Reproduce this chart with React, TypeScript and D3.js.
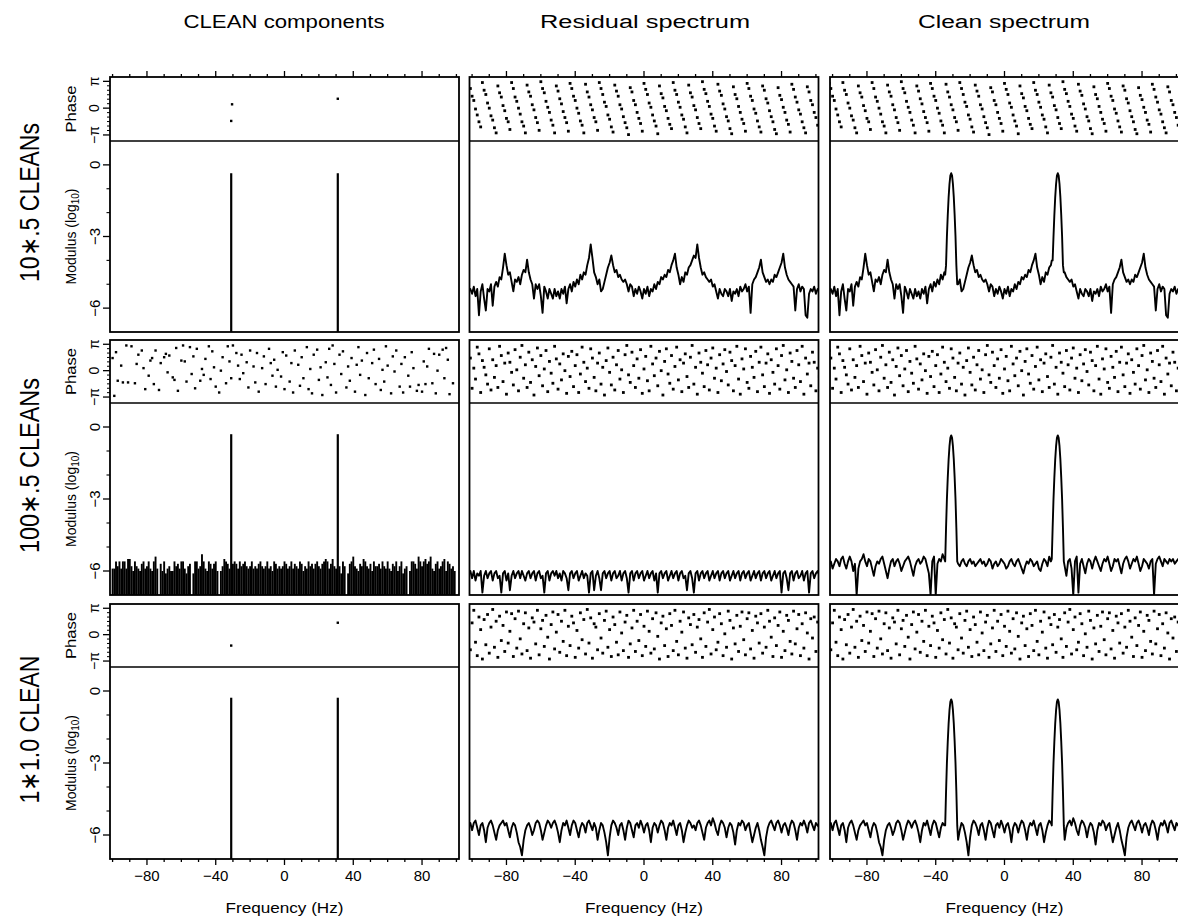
import React from "react";
import * as d3 from "d3";

// ---------- axis / label data ----------
const F_START = -102; // frequency (Hz) of the first sample of every 1-Hz series below
const X_DOMAIN: [number, number] = [-101.5, 101.5];
const MOD_DOMAIN: [number, number] = [-7, 1];
const PHASE_DOMAIN: [number, number] = [-3.85, 3.65];

const COLUMN_TITLES = ["CLEAN components", "Residual spectrum", "Clean spectrum"];
const ROW_LABELS = ["10∗.5 CLEANs", "100∗.5 CLEANs", "1∗1.0 CLEAN"];
const X_TICKS = [-80, -40, 0, 40, 80];
const X_TICK_LABELS = ["−80", "−40", "0", "40", "80"];
const X_MINOR_TICKS = [-100, -90, -70, -60, -50, -30, -20, -10, 10, 20, 30, 50, 60, 70, 90, 100];
const MOD_TICKS = [0, -3, -6];
const MOD_TICK_LABELS = ["0", "−3", "−6"];
const MOD_MINOR_TICKS = [-1, -2, -4, -5];
const PHASE_TICKS = [Math.PI, 0, -Math.PI];
const PHASE_TICK_LABELS = ["π", "0", "−π"];
const PHASE_MINOR_TICKS = [5, 4, 3, 2, 1, -1, -2, -3, -4, -5].map((k) => (k * Math.PI) / 6);

// ---------- CLEAN components ----------
const COMP_FREQS = [-31, 31];
const COMP_TOPS = [
  [-0.35, -0.35],
  [-0.3, -0.3],
  [-0.28, -0.28],
];
const COMP1_PH_FREQS = [-30.5, -31, 31];
const COMP1_PH = [0.45, -1.5, 1.1];
const COMP3_PH_FREQS = [-31, 31];
const COMP3_PH = [-1.3, 1.42];

// 100*.5 run: small components on the 1 Hz grid (null = none)
const COMP2_MOD = [
  null, null, -5.9, -5.9, -5.6, -5.8, -5.6, -5.9, -5.6, -5.6,
  -5.9, -5.5, -5.5, -5.8, -6.0, -5.6, -5.8, -5.9, -6.0, -5.7,
  -5.6, -5.9, -5.8, -5.6, -5.9, -6.0, -5.6, -5.4, -5.9, null,
  -5.7, -6.0, -5.6, -6.1, -5.9, -5.8, -6.0, -6.0, -5.6, -5.8,
  -5.7, -5.9, -5.6, -5.6, -5.9, -6.1, -5.8, -5.7, null, -6.1,
  -5.6, -5.6, -5.9, -5.8, -5.3, -5.6, -5.9, -6.0, -5.6, -5.7,
  -5.9, -5.7, -5.6, -6.0, null, -6.0, -5.8, -5.5, -5.6, -5.7,
  -5.9, null, -5.7, -5.6, -5.7, -5.9, -5.6, -5.8, -5.7, -5.6,
  -5.8, -5.9, -5.8, -5.6, -5.9, -5.8, -5.9, -5.7, -5.6, -5.8,
  -5.9, -5.8, -5.6, -5.9, -5.8, -6.0, -5.6, -5.7, -5.9, -5.8,
  -5.9, -5.8, -5.6, -5.7, -5.9, -5.8, -5.6, -5.9, -5.7, -5.8,
  -5.9, -5.6, -5.7, -6.0, -5.8, -5.9, -5.6, -5.8, -5.7, -5.9,
  -5.7, -5.6, -5.8, -5.9, -5.7, -5.6, -5.5, -5.6, -5.9, -5.7,
  -5.5, -5.8, -5.9, null, -5.8, -6.1, -5.6, -5.8, null, -6.1,
  -5.7, -5.6, -5.4, -5.8, -5.9, -6.0, -5.7, -5.8, -5.5, -5.6,
  -5.8, -5.9, -5.7, -6.0, -5.6, -5.8, -5.8, -5.7, -5.9, -5.6,
  -5.8, -5.9, -5.6, -5.9, -6.0, -5.7, -5.8, -5.6, -6.0, -5.8,
  -5.6, -6.1, -5.9, -5.8, null, -6.0, -5.6, -5.6, -5.7, -5.9,
  -5.4, -5.6, -5.8, -5.6, -5.5, -5.7, -5.6, -5.4, -5.9, -6.0,
  -5.7, -5.6, -5.9, -5.8, -5.6, -5.5, -6.0, -5.6, -5.7, -5.9,
  -5.8, -6.0, null, null, null,
];
const COMP2_PH = [
  null, null, 1.5, -3.0, 2.2, -1.2, null, 0.6, -1.4, null,
  3.0, -1.4, null, 2.9, null, -1.5, 0.8, 1.9, null, 2.4,
  0.3, -2.2, null, -0.6, 1.2, 1.5, -1.6, 2.4, null, -2.3,
  0.9, null, 1.6, 2.0, -0.2, 1.8, null, -0.8, -1.1, 2.7,
  -2.4, null, 1.2, 3.0, 1.1, -1.3, null, 2.8, -0.4, 1.7,
  -2.1, 2.6, null, -1.2, 0.2, -0.5, 1.4, null, 2.9, -1.0,
  2.3, 0.4, -1.9, null, -2.6, 0.0, 1.6, null, -1.5, 2.9,
  1.1, -0.9, 3.0, null, 2.1, 0.6, -1.0, 1.9, -0.3, null,
  1.0, -2.0, 2.4, null, 0.5, -1.4, 2.1, -2.5, null, 0.3,
  1.7, -1.6, null, 2.6, 0.9, -0.6, 1.3, -1.9, 0.1, null,
  -0.7, 2.2, -2.2, 1.8, null, -1.3, 0.9, -2.6, 2.4, null,
  0.7, -1.8, 1.6, -0.9, null, 2.8, -2.2, 0.2, -2.7, 1.9,
  null, 2.5, -1.1, 0.4, -2.9, null, 1.0, -0.8, 2.6, -1.7,
  3.0, 0.8, -2.6, null, 1.9, -0.4, 2.3, null, -2.0, 0.5,
  -1.2, 1.5, null, -2.5, 0.7, 2.8, -0.5, 1.2, null, -2.9,
  2.1, -0.9, null, 0.9, 2.5, -1.6, null, 1.4, -2.3, 0.1,
  -1.3, 2.9, 0.6, null, -2.7, 1.7, -0.1, 2.4, null, -1.9,
  0.8, -2.6, 1.6, null, -0.6, -1.9, 2.2, 0.3, null, -2.4,
  -1.7, null, -2.5, 1.1, -1.6, 0.5, 2.6, null, -1.5, 2.0,
  -2.7, 0.0, 1.9, null, 2.5, -0.9, 2.7, 1.3, -2.8, null,
  -1.5, null, null, null, null,
];

// ---------- spectra: log10 modulus, 1 Hz grid from -102 Hz ----------
const MOD_R1 = [
  -5.3, -5.2, -5.4, -5.1, -5.5, -5.2, -6.3, -5.3, -5.0, -5.6,
  -6.1, -5.2, -5.3, -5.0, -5.9, -5.1, -4.9, -5.1, -4.7, -4.8,
  -4.3, -3.72, -4.2, -4.6, -4.5, -4.9, -5.3, -4.8, -4.9, -4.7,
  -5.0, -4.6, -4.4, -4.5, -3.97, -4.5, -4.8, -5.0, -5.6, -5.0,
  -5.2, -5.0, -5.5, -6.2, -5.1, -5.3, -5.6, -5.2, -5.4, -5.6,
  -5.2, -5.5, -5.3, -5.6, -5.2, -5.4, -5.1, -5.8, -5.2, -5.0,
  -5.3, -4.9, -5.1, -4.8, -5.0, -4.6, -4.8, -4.5, -4.6, -4.2,
  -3.9, -3.33, -3.9, -4.5, -4.7, -5.0, -4.8, -5.3, -5.2, -4.9,
  -4.6, -4.3, -4.1, -3.79, -4.2, -4.5, -4.4, -4.7, -4.6, -4.8,
  -4.9, -4.8, -5.0, -5.3, -5.0, -5.1, -5.5, -5.2, -5.4, -5.1,
  -5.3, -5.6, -5.2, -5.4, -5.1, -5.5, -5.2, -5.3, -5.0, -5.2,
  -4.9, -5.0, -4.7, -4.8, -4.6, -4.7, -4.4, -4.5, -4.2, -4.0,
  -3.72, -4.3, -4.6, -5.0, -4.7, -4.9, -4.5, -4.6, -4.3, -4.2,
  -4.0, -3.8, -3.9, -3.33, -3.9, -4.3, -4.6, -4.5, -4.7, -4.8,
  -4.9, -4.8, -5.1, -5.0, -5.3, -5.6, -5.2, -5.4, -5.5, -5.2,
  -5.3, -5.5, -5.2, -5.7, -5.3, -5.4, -5.2, -5.5, -5.1, -5.3,
  -5.2, -5.0, -5.3, -5.1, -6.2, -5.0, -4.8, -4.7, -4.5, -4.3,
  -3.97, -4.5, -4.7, -4.9, -4.8, -5.0, -4.8, -4.9, -4.6, -4.7,
  -4.5, -4.3, -4.1, -3.72, -4.3, -4.6, -4.8, -4.9, -5.0, -5.1,
  -6.1, -5.2, -5.0, -5.3, -5.1, -5.2, -6.3, -6.4, -5.4, -5.2,
  -5.3, -5.1, -5.4, -5.2, -5.3,
];
const MOD_R2 = [
  -6.1, -6.0, -6.3, -6.0, -6.4, -6.1, -6.2, -6.0, -6.9, -6.2,
  -6.0, -6.3, -6.1, -6.0, -6.4, -6.1, -6.0, -6.3, -6.2, -6.9,
  -6.1, -6.0, -6.4, -6.1, -6.8, -6.2, -6.0, -6.3, -6.1, -6.0,
  -6.3, -6.0, -6.2, -6.4, -6.1, -6.0, -6.3, -6.1, -6.0, -6.4,
  -6.1, -6.0, -6.3, -6.2, -6.9, -6.1, -6.0, -6.4, -6.1, -6.0,
  -6.2, -6.0, -6.3, -6.1, -6.4, -6.0, -6.1, -6.3, -6.8, -6.1,
  -6.0, -6.3, -6.1, -6.0, -6.4, -6.2, -6.0, -6.3, -6.1, -6.2,
  -6.9, -6.1, -6.0, -6.8, -6.2, -6.0, -6.3, -6.8, -6.1, -6.0,
  -6.3, -6.1, -6.0, -6.4, -6.1, -6.0, -6.3, -6.2, -6.0, -6.4,
  -6.1, -6.0, -6.3, -6.9, -6.1, -6.0, -6.4, -6.1, -6.0, -6.3,
  -6.1, -6.0, -6.4, -6.2, -6.0, -6.3, -6.1, -6.0, -6.4, -6.1,
  -6.9, -6.1, -6.0, -6.3, -6.1, -6.0, -6.4, -6.2, -6.0, -6.3,
  -6.1, -6.0, -6.4, -6.1, -6.0, -6.3, -6.2, -6.8, -6.1, -6.0,
  -6.3, -6.9, -6.1, -6.0, -6.4, -6.1, -6.0, -6.3, -6.1, -6.0,
  -6.4, -6.2, -6.0, -6.3, -6.1, -6.0, -6.4, -6.1, -6.0, -6.3,
  -6.1, -6.0, -6.4, -6.2, -6.0, -6.3, -6.1, -6.0, -6.4, -6.1,
  -6.0, -6.3, -6.1, -6.0, -6.4, -6.2, -6.0, -6.3, -6.1, -6.0,
  -6.4, -6.1, -6.0, -6.3, -6.1, -6.0, -6.4, -6.2, -6.0, -6.3,
  -6.1, -6.0, -6.9, -6.1, -6.0, -6.3, -6.8, -6.1, -6.0, -6.4,
  -6.1, -6.0, -6.3, -6.2, -6.0, -6.4, -6.1, -6.0, -6.9, -6.1,
  -6.0, -6.3, -6.1, -6.0, -6.2,
];
const MOD_C2 = [
  -5.7, -5.6, -5.9, -5.7, -5.5, -5.6, -5.8, -5.5, -5.4, -5.7,
  -5.9, -5.6, -5.4, -5.6, -6.0, -5.7, -7.0, -5.9, -5.6, -5.5,
  -5.3, -5.6, -5.8, -5.5, -5.6, -5.9, -6.2, -5.8, -5.6, -5.7,
  -5.5, -5.4, -5.7, -6.0, -6.3, -5.9, -5.6, -5.5, -5.8, -5.6,
  -5.5, -5.7, -6.0, -5.8, -5.6, -5.5, -5.4, -5.6, -5.9, -6.2,
  -5.8, -5.6, -5.5, -5.7, -5.6, -5.4, -5.5, -5.8, -6.1, -7.0,
  -5.6, -5.4, -7.0, -5.7, -5.5, -5.6, -5.3, -5.5, -5.8, -5.6,
  -5.5, -5.6, -5.7, -5.5, -5.4, -5.7, -5.8, -5.6, -5.5, -5.7,
  -5.8, -5.6, -5.5, -5.7, -5.6, -5.8, -5.7, -5.6, -5.5, -5.7,
  -5.6, -5.8, -5.7, -5.5, -5.6, -5.9, -5.7, -5.6, -5.8, -5.7,
  -5.5, -5.6, -5.7, -5.9, -5.8, -5.6, -5.5, -5.7, -5.8, -5.6,
  -5.5, -5.7, -5.9, -6.1, -5.8, -5.6, -5.7, -5.5, -5.6, -5.8,
  -5.7, -5.6, -5.9, -6.0, -5.7, -5.5, -5.6, -5.8, -5.4, -5.6,
  -5.5, -5.7, -5.6, -5.5, -5.6, -5.7, -5.3, -5.8, -6.2, -5.6,
  -5.5, -5.9, -7.0, -5.6, -5.4, -6.9, -5.7, -5.5, -5.8, -6.1,
  -5.7, -5.5, -5.6, -5.9, -5.6, -5.4, -5.6, -5.8, -6.0, -5.7,
  -5.5, -5.6, -5.4, -5.7, -6.0, -5.8, -5.5, -5.6, -5.5, -5.8,
  -6.1, -5.7, -5.5, -5.4, -5.6, -5.9, -5.7, -5.5, -5.6, -5.4,
  -5.7, -6.0, -5.8, -5.5, -5.6, -5.7, -5.9, -5.6, -5.5, -7.0,
  -5.7, -5.5, -5.4, -5.6, -5.8, -5.5, -5.6, -5.7, -5.5, -5.6,
  -5.5, -5.7, -5.6, -5.5, -5.6,
];
const MOD_R3 = [
  -5.6, -5.5, -5.8, -5.5, -5.4, -5.7, -6.0, -5.6, -5.5, -5.8,
  -6.3, -5.7, -5.5, -5.4, -5.6, -5.9, -6.2, -5.8, -5.6, -5.5,
  -5.4, -5.6, -5.5, -5.8, -6.1, -5.7, -5.5, -5.6, -5.9, -6.3,
  -6.5, -6.85, -6.2, -5.8, -5.6, -5.5, -5.7, -6.0, -5.8, -5.5,
  -5.4, -5.5, -5.8, -6.2, -5.9, -5.6, -5.4, -5.5, -5.7, -5.5,
  -5.4, -5.6, -5.9, -6.3, -5.8, -5.5, -5.6, -5.4, -5.7, -6.0,
  -5.6, -5.4, -5.5, -5.8, -6.1, -5.7, -5.5, -5.6, -5.9, -5.5,
  -5.4, -5.6, -5.8, -5.5, -5.7, -6.2, -5.8, -5.5, -5.6, -5.9,
  -6.3, -6.85, -6.1, -5.6, -5.4, -5.5, -5.7, -6.0, -5.6, -5.5,
  -5.8, -6.2, -5.7, -5.4, -5.5, -5.8, -6.1, -5.6, -5.5, -5.7,
  -5.4, -5.6, -5.9, -5.6, -5.5, -5.8, -6.3, -5.7, -5.5, -5.6,
  -5.9, -5.6, -5.4, -5.5, -5.8, -6.2, -5.7, -5.5, -5.6, -5.4,
  -5.7, -6.0, -5.6, -5.5, -5.8, -6.3, -5.9, -5.6, -5.4, -5.5,
  -5.7, -5.6, -5.8, -5.5, -5.4, -5.6, -5.9, -6.2, -5.7, -5.5,
  -5.4, -5.6, -5.3, -5.5, -5.8, -6.0, -5.6, -5.4, -5.5, -5.7,
  -6.1, -5.7, -5.5, -5.6, -5.9, -6.4, -5.8, -5.5, -5.6, -5.4,
  -5.5, -5.8, -5.6, -5.5, -5.9, -6.3, -6.0, -5.7, -5.5, -5.8,
  -6.2, -6.5, -6.85, -6.1, -5.7, -5.5, -5.4, -5.6, -5.8, -5.5,
  -5.4, -5.6, -5.9, -5.6, -5.5, -5.7, -6.0, -5.6, -5.4, -5.5,
  -5.8, -6.2, -5.7, -5.5, -5.6, -5.4, -5.6, -5.9, -5.5, -5.4,
  -5.6, -5.8, -5.5, -5.6, -5.7,
];

// restored CLEAN beam (log10 modulus) around each component frequency
const BEAM_OFFSETS = [-3.5, -3, -2.5, -2, -1.5, -1, -0.5, 0, 0.5, 1, 1.5, 2, 2.5, 3, 3.5];
const BEAM_VALUES = [-5.6, -4.2, -3.0, -2.1, -1.35, -0.8, -0.45, -0.35, -0.45, -0.8, -1.35, -2.1, -3.0, -4.2, -5.6];

// ---------- phases (radians), 1 Hz grid from -102 Hz ----------
const PH_R1 = [
  2.9, 2.3, 1.4, 0.9, -0.1, -0.8, -1.6, -2.2, 3.0, 2.1,
  1.6, 0.6, 0.0, -0.9, -1.4, -2.3, -2.9, 2.6, 1.8, 1.3,
  0.3, -0.3, -1.2, -1.6, -2.5, 3.0, 2.3, 1.3, 0.8, 0.0,
  -0.7, -1.6, -2.1, -2.9, 2.7, 1.9, 1.4, 0.4, -0.2, -1.1,
  -1.7, -2.6, 3.1, 2.3, 1.8, 0.8, 0.1, -0.5, -1.4, -2.0,
  -2.9, 2.6, 2.0, 1.1, 0.5, -0.4, -1.1, -1.7, -2.7, 2.9,
  2.3, 1.4, 0.9, 0.0, -0.6, -1.5, -2.0, -2.9, 2.8, 1.9,
  1.3, 0.4, -0.2, -1.1, -1.6, -2.6, 3.0, 2.3, 1.6, 0.7,
  0.2, -0.8, -1.3, -2.2, -2.8, 2.7, 2.0, 1.4, 0.4, -0.1,
  -1.0, -1.7, -2.3, -3.1, 2.4, 1.9, 0.9, 0.4, -0.5, -1.2,
  -1.8, -2.7, 2.9, 2.2, 1.6, 0.6, 0.1, -0.8, -1.5, -2.1,
  -3.0, 2.6, 1.7, 1.2, 0.2, -0.3, -1.2, -1.9, -2.4, 3.0,
  2.1, 1.6, 0.7, 0.1, -0.8, -1.3, -2.2, -2.9, 2.7, 1.8,
  1.3, 0.3, -0.2, -1.1, -1.8, -2.4, 3.1, 2.2, 1.7, 0.8,
  0.2, -0.7, -1.2, -2.1, -2.7, 2.8, 2.0, 1.5, 0.5, -0.1,
  -1.0, -1.5, -2.4, -3.0, 2.5, 1.6, 1.1, 0.2, -0.5, -1.3,
  -1.8, -2.7, 2.9, 2.3, 1.4, 0.9, -0.1, -0.6, -1.5, -2.2,
  -2.8, 2.6, 2.1, 1.1, 0.6, -0.3, -1.0, -1.6, -2.5, -3.0,
  2.4, 1.5, 1.0, 0.1, -0.5, -1.4, -1.9, -2.8, 2.8, 2.2,
  1.3, 0.7, -0.2, -0.7, -1.6, -2.3, -2.9, 2.5, 1.9, 0.9,
  0.4, -0.5, -1.1, -2.0, -2.5,
];
const PH_R2 = [
  2.4, 1.5, -2.1, 0.3, -1.0, 2.8, 2.0, -2.6, 1.2, 0.4,
  -0.5, -1.6, 2.6, -2.3, 1.3, -0.8, 0.6, -2.0, 2.9, 1.8,
  -1.3, 0.9, -2.8, 2.1, 1.0, -0.2, -1.7, 2.5, 0.1, -2.4,
  1.6, 3.0, -0.9, 0.7, -2.0, 2.2, -1.4, 1.3, -2.9, 0.5,
  2.7, -0.6, 1.8, -1.8, 0.2, 2.4, -2.5, 1.1, -0.3, -1.5,
  2.9, 1.4, -2.2, 0.8, -1.1, 2.0, 0.0, -2.7, 1.7, -0.7,
  2.3, -1.9, 0.6, 1.9, -2.6, -0.4, 2.8, 1.0, -1.3, 0.3,
  -2.1, 2.6, 1.5, -0.8, -2.4, 0.9, 2.1, -1.6, 0.4, -2.9,
  1.2, 2.7, -0.2, -1.7, 1.6, -2.3, 0.7, 2.4, -1.0, 0.1,
  -2.6, 1.9, 3.0, -0.5, -1.4, 2.2, 0.6, -2.0, 1.4, -0.9,
  2.5, -2.7, 0.2, 1.7, -1.2, -2.4, 2.9, 0.8, -0.6, 1.5,
  -1.8, 2.3, 0.0, -2.9, 1.1, 2.6, -0.4, -1.5, 1.8, -2.2,
  0.5, 2.8, -1.1, 1.3, -2.5, 0.9, 2.0, -0.7, -2.0, 1.6,
  3.0, -1.6, 0.4, -2.8, 2.1, 1.0, -0.3, -1.9, 2.4, 0.7,
  -2.3, 1.5, 2.7, -0.9, 0.3, -2.6, 1.9, -1.2, 0.8, 2.5,
  -0.1, -1.7, 2.2, 1.2, -2.4, 0.6, 2.9, -1.0, -2.8, 1.4,
  0.2, 2.6, -1.4, -2.1, 1.7, 0.4, -0.8, 2.3, -2.5, 1.0,
  2.8, -0.5, -1.9, 0.9, 2.0, -2.7, 1.3, -0.2, -1.6, 2.6,
  0.6, -2.2, 1.8, 3.0, -1.1, 0.1, -2.6, 2.1, 1.1, -0.9,
  -2.0, 2.4, 0.7, -1.3, 2.9, -2.8, 1.5, -0.4, 0.9, -1.8,
  2.2, 1.0, -2.4, 0.3, -0.7,
];
const PH_R3 = [
  2.6, -1.8, 1.4, 2.9, -0.9, -2.5, 2.1, 0.6, -2.9, 1.8,
  -1.2, 2.4, -2.2, 0.9, 3.0, -1.5, 1.6, -2.7, 2.2, -0.7,
  1.1, -2.0, 2.7, -1.0, 0.4, 2.5, -2.6, 1.9, -1.6, 2.8,
  -0.5, -2.3, 1.3, 2.6, -1.9, 0.8, -2.8, 2.0, 1.5, -1.1,
  2.9, -2.4, 0.7, 1.7, -1.4, 2.3, -0.3, -2.9, 1.2, 2.7,
  -1.7, 0.3, 2.4, -2.1, 1.6, -0.8, 2.9, -2.5, 1.0, -1.3,
  2.2, 1.4, -2.7, 0.5, -1.6, 2.6, -0.6, 1.8, -2.3, 3.0,
  -1.0, 2.0, -2.8, 1.3, 0.9, -1.8, 2.5, -0.4, -2.2, 1.7,
  2.8, -1.5, 0.6, -2.6, 2.1, 1.2, -0.9, -2.4, 2.7, 0.2,
  -1.9, 1.5, 2.3, -2.7, -1.1, 0.8, 2.9, -2.0, 1.6, -0.7,
  2.4, -2.5, 1.0, -1.4, 2.8, 0.4, -2.2, 1.9, -1.7, 2.6,
  -0.2, -2.9, 1.4, 2.2, -1.3, 0.7, -2.6, 2.5, 1.1, -1.9,
  2.9, -0.8, -2.4, 1.6, 0.3, 2.7, -1.6, -2.8, 2.0, 1.2,
  -1.2, 2.4, -2.1, 0.9, 1.8, -0.5, -2.7, 2.6, -1.4, 1.5,
  3.0, -2.3, 0.6, 2.1, -1.8, -0.9, 2.5, 1.3, -2.5, 0.1,
  -1.5, 2.8, 1.7, -2.9, 0.8, -1.1, 2.3, -2.0, 1.0, 2.7,
  -0.6, -2.4, 1.9, 2.6, -1.7, 0.5, -2.8, 2.2, 1.4, -1.0,
  2.5, -2.2, 0.9, -1.5, 2.9, 1.6, -0.3, -2.6, 2.0, -1.3,
  1.1, 2.7, -2.7, 0.4, -1.9, 2.3, 1.7, -0.8, -2.3, 2.8,
  -1.1, 0.7, 2.4, -2.5, 1.3, -1.6, 2.6, 0.2, -2.9, 1.9,
  -0.4, 2.1, -2.0, 1.5, 2.9,
];

// ---------- per-row bundles ----------
const RESIDUAL_MOD = [MOD_R1, MOD_R2, MOD_R3];
const CLEAN_NOISE_MOD = [MOD_R1, MOD_C2, MOD_R3];
const RESIDUAL_PH = [PH_R1, PH_R2, PH_R3];
const CLEAN_PH = [PH_R1, PH_R2, PH_R3];

// ---------- layout ----------
const W = 1178;
const H = 921;
const COL_LEFT = [110, 469.5, 830];
const PANEL_W = 349;
const ROW_TOP = [77, 340, 604];
const ROW_DIV = [141, 403, 667];
const ROW_BOT = [332, 595, 859];
const FONT = "'Liberation Sans', Arial, Helvetica, sans-serif";

type Pt = [number, number];

function gridPoints(values: (number | null)[]): Pt[] {
  const out: Pt[] = [];
  values.forEach((v, i) => {
    if (v !== null && v !== undefined) out.push([F_START + i, v]);
  });
  return out;
}

function cleanPoints(noise: number[]): Pt[] {
  const pts: Pt[] = [];
  noise.forEach((v, i) => {
    const f = F_START + i;
    if (COMP_FREQS.every((c) => Math.abs(f - c) > 3.6)) pts.push([f, v]);
  });
  COMP_FREQS.forEach((c) => {
    BEAM_OFFSETS.forEach((o, k) => {
      const idx = Math.round(c + o) - F_START;
      pts.push([c + o, Math.max(BEAM_VALUES[k], noise[idx])]);
    });
  });
  return pts.sort((a, b) => a[0] - b[0]);
}

function Panel({ row, col }: { row: number; col: number }) {
  const left = COL_LEFT[col];
  const right = left + PANEL_W;
  const top = ROW_TOP[row];
  const div = ROW_DIV[row];
  const bot = ROW_BOT[row];
  const x = d3.scaleLinear().domain(X_DOMAIN).range([left, right]);
  const yM = d3.scaleLinear().domain(MOD_DOMAIN).range([bot, div]);
  const yP = d3.scaleLinear().domain(PHASE_DOMAIN).range([div, top]);
  const clipId = `clip-${row}-${col}`;
  const clipPhId = `clipph-${row}-${col}`;
  const line = d3
    .line<Pt>()
    .x((d) => x(d[0]))
    .y((d) => yM(d[1]));

  const dots: Pt[] = [];
  const bars: Pt[] = [];
  let path: string | null = null;

  if (col === 0) {
    COMP_FREQS.forEach((f, k) => bars.push([f, COMP_TOPS[row][k]]));
    if (row === 0) COMP1_PH_FREQS.forEach((f, k) => dots.push([f, COMP1_PH[k]]));
    if (row === 1) {
      gridPoints(COMP2_MOD).forEach((p) => bars.push(p));
      gridPoints(COMP2_PH).forEach((p) => dots.push(p));
    }
    if (row === 2) COMP3_PH_FREQS.forEach((f, k) => dots.push([f, COMP3_PH[k]]));
  } else if (col === 1) {
    path = line(gridPoints(RESIDUAL_MOD[row]));
    gridPoints(RESIDUAL_PH[row]).forEach((p) => dots.push(p));
  } else {
    path = line(cleanPoints(CLEAN_NOISE_MOD[row]));
    gridPoints(CLEAN_PH[row]).forEach((p) => dots.push(p));
  }

  const bigBar = (v: number) => v > -3;
  const dot = col === 0 ? 2.4 : 2.8;

  return (
    <g>
      <defs>
        <clipPath id={clipId}>
          <rect x={left} y={div} width={PANEL_W} height={bot - div} />
        </clipPath>
        <clipPath id={clipPhId}>
          <rect x={left} y={top} width={PANEL_W} height={div - top} />
        </clipPath>
      </defs>
      <g clipPath={`url(#${clipPhId})`}>
        {dots.map((d, i) => (
          <rect
            key={i}
            x={x(d[0]) - dot / 2}
            y={yP(d[1]) - dot / 2}
            width={dot}
            height={dot}
            fill="#000"
          />
        ))}
      </g>
      <g clipPath={`url(#${clipId})`}>
        {bars.map((b, i) => (
          <line
            key={i}
            x1={x(b[0])}
            x2={x(b[0])}
            y1={yM(MOD_DOMAIN[0])}
            y2={yM(b[1])}
            stroke="#000"
            strokeWidth={bigBar(b[1]) ? 2.2 : 1.9}
          />
        ))}
        {path && (
          <path d={path} fill="none" stroke="#000" strokeWidth={1.9} strokeLinejoin="round" />
        )}
      </g>
      <rect x={left} y={top} width={PANEL_W} height={bot - top} fill="none" stroke="#000" strokeWidth={1.8} />
      <line x1={left} x2={right} y1={div} y2={div} stroke="#000" strokeWidth={1.7} />

      {row === 0 &&
        X_TICKS.concat(X_MINOR_TICKS).map((t, i) => (
          <line key={`tt${i}`} x1={x(t)} x2={x(t)} y1={top} y2={top - (X_TICKS.includes(t) ? 6 : 3)} stroke="#000" strokeWidth={1.3} />
        ))}
      {row === 2 && (
        <g>
          {X_TICKS.concat(X_MINOR_TICKS).map((t, i) => (
            <line key={`bt${i}`} x1={x(t)} x2={x(t)} y1={bot} y2={bot + (X_TICKS.includes(t) ? 6 : 3)} stroke="#000" strokeWidth={1.3} />
          ))}
          {X_TICKS.map((t, i) => (
            <text key={`bl${i}`} x={x(t)} y={881} textAnchor="middle" fontSize={15} fontFamily={FONT}>
              {X_TICK_LABELS[i]}
            </text>
          ))}
          <text x={left + PANEL_W / 2} y={913} textAnchor="middle" fontSize={14} fontFamily={FONT} textLength={118} lengthAdjust="spacingAndGlyphs">
            Frequency (Hz)
          </text>
        </g>
      )}

      {col === 0 && (
        <g>
          {MOD_TICKS.map((t, i) => (
            <g key={`mt${i}`}>
              <line x1={left} x2={left - 7} y1={yM(t)} y2={yM(t)} stroke="#000" strokeWidth={1.3} />
              <text
                transform={`translate(${94},${yM(t)}) rotate(-90)`}
                textAnchor="middle"
                dominantBaseline="central"
                fontSize={15}
                fontFamily={FONT}
              >
                {MOD_TICK_LABELS[i]}
              </text>
            </g>
          ))}
          {MOD_MINOR_TICKS.map((t, i) => (
            <line key={`mm${i}`} x1={left} x2={left - 3.5} y1={yM(t)} y2={yM(t)} stroke="#000" strokeWidth={1.1} />
          ))}
          {PHASE_TICKS.map((t, i) => (
            <g key={`pt${i}`}>
              <line x1={left} x2={left - 7} y1={yP(t)} y2={yP(t)} stroke="#000" strokeWidth={1.3} />
              <text
                transform={`translate(${94},${yP(t)}) rotate(-90)`}
                textAnchor="middle"
                dominantBaseline="central"
                fontSize={14}
                fontFamily={FONT}
              >
                {PHASE_TICK_LABELS[i]}
              </text>
            </g>
          ))}
          {PHASE_MINOR_TICKS.map((t, i) => (
            <line key={`pm${i}`} x1={left} x2={left - 3} y1={yP(t)} y2={yP(t)} stroke="#000" strokeWidth={1} />
          ))}
          <text
            transform={`translate(${71},${(top + div) / 2}) rotate(-90)`}
            textAnchor="middle"
            dominantBaseline="central"
            fontSize={14}
            fontFamily={FONT}
            textLength={47}
            lengthAdjust="spacingAndGlyphs"
          >
            Phase
          </text>
          <text
            transform={`translate(${71},${(div + bot) / 2}) rotate(-90)`}
            textAnchor="middle"
            dominantBaseline="central"
            fontSize={14}
            fontFamily={FONT}
          >
            Modulus (log
            <tspan fontSize={10} dy={4}>
              10
            </tspan>
            <tspan dy={-4}>)</tspan>
          </text>
        </g>
      )}
    </g>
  );
}

const ROW_LABEL_LENGTHS = [159, 175, 148];
const TITLE_CENTERS = [284, 645, 1004];
const TITLE_LENGTHS = [201, 210, 172];

export default function App() {
  const rows = [0, 1, 2];
  const cols = [0, 1, 2];
  return (
    <svg
      width={W}
      height={H}
      viewBox={`0 0 ${W} ${H}`}
      style={{ position: "absolute", left: 0, top: 0, background: "#fff" }}
    >
      <rect x={0} y={0} width={W} height={H} fill="#fff" />
      {COLUMN_TITLES.map((t, i) => (
        <text
          key={t}
          x={TITLE_CENTERS[i]}
          y={28}
          textAnchor="middle"
          fontSize={18}
          fontFamily={FONT}
          textLength={TITLE_LENGTHS[i]}
          lengthAdjust="spacingAndGlyphs"
        >
          {t}
        </text>
      ))}
      {ROW_LABELS.map((t, r) => (
        <text
          key={t}
          transform={`translate(${30},${(ROW_TOP[r] + ROW_BOT[r]) / 2 - 2}) rotate(-90)`}
          textAnchor="middle"
          dominantBaseline="central"
          fontSize={27}
          fontFamily={FONT}
          textLength={ROW_LABEL_LENGTHS[r]}
          lengthAdjust="spacingAndGlyphs"
        >
          {t}
        </text>
      ))}
      {rows.map((r) => cols.map((c) => <Panel key={`${r}-${c}`} row={r} col={c} />))}
    </svg>
  );
}
